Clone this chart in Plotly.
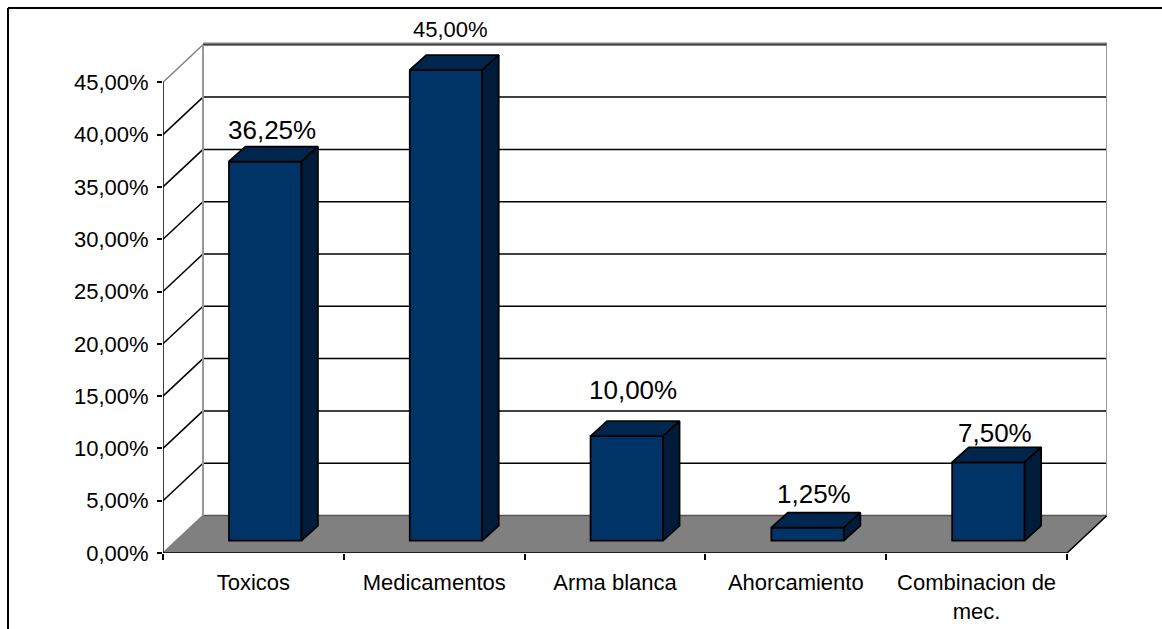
import plotly.graph_objects as go

categories = ["Toxicos", "Medicamentos", "Arma blanca", "Ahorcamiento", "Combinacion de<br>mec."]
values = [36.25, 45.0, 10.0, 1.25, 7.5]
y_ticks = [0, 5, 10, 15, 20, 25, 30, 35, 40, 45]

# 3D look: pixel scales and depths, used only to convert style into axis units
W, H = 1162, 629
PL, PR, PT, PB = 163, 1107, 40, 553
PX_CAT = 180.8
PX_UNIT = 10.46
DX = 40 / PX_CAT
DY = 37.5 / PX_UNIT
BAR_W = 72.5 / PX_CAT
BAR_DX = 16.5 / PX_CAT
BAR_DY = 15 / PX_UNIT
SHIFT_X = 11.8 / PX_CAT
SHIFT_Y = 12.3 / PX_UNIT
FONT = "Liberation Sans"
FRONT, TOP, SIDE = "#003366", "#00264D", "#001C3A"
label_nudge = [(-1, 0), (-3.5, 11), (-2, 14), (-2, 2), (-2, -3)]
label_size = [26, 22, 26, 26, 26]
EDGE = 1.75

fmt = lambda v: f"{v:.2f}%".replace(".", ",")
n = len(categories)
x_min, x_max = -0.5, n - 0.5
y_top = y_ticks[-1]

shapes = []
def line(x0, y0, x1, y1, color="black", width=1.5, ref="x", layer="below"):
    shapes.append(dict(type="line", xref=ref, yref=ref.replace("x", "y"), x0=x0, y0=y0, x1=x1, y1=y1,
                       line=dict(color=color, width=width), layer=layer))

# floor
shapes.append(dict(type="path", xref="x", yref="y", layer="below",
                   path=f"M{x_min},0 L{x_max},0 L{x_max+DX},{DY} L{x_min+DX},{DY} Z",
                   fillcolor="#808080", line=dict(color="#808080", width=1)))
line(x_min + DX, DY, x_max + DX, DY, "#555555", 1.5)
# gridlines on back and side walls
for v in y_ticks[1:]:
    line(x_min + DX, v + DY, x_max + DX, v + DY)
    line(x_min, v, x_min + DX, v + DY, "#808080" if v == y_top else "black")
line(x_min, 0, x_min + DX, DY, "#808080")
line(x_max, 0, x_max + DX, DY, "black")
# wall border
line(x_min + DX, DY, x_min + DX, y_top + DY, "#999999", 2)
line(x_max + DX, DY, x_max + DX, y_top + DY, "#999999", 2)
line(x_min + DX, y_top + DY + 0.12, x_max + DX, y_top + DY + 0.12, "#808080", 2)
# outer frame, paper coordinates
def px(x): return (x - PL) / (PR - PL)
def py(y): return (PB - y) / (PB - PT)
line(px(8), py(8), px(W), py(8), "black", 2, "paper")
line(px(8), py(8), px(8), py(H), "black", 2, "paper")

centers = [i + SHIFT_X for i in range(n)]
fig = go.Figure()
fig.add_trace(go.Bar(x=centers, y=values, base=[SHIFT_Y] * n, width=BAR_W,
                     marker=dict(color=FRONT, line=dict(color="black", width=EDGE)),
                     hoverinfo="skip", showlegend=False))

for c, v in zip(centers, values):
    xl, xr = c - BAR_W / 2, c + BAR_W / 2
    yb, yt = SHIFT_Y, SHIFT_Y + v
    fig.add_trace(go.Scatter(x=[xl, xr, xr + BAR_DX, xl + BAR_DX, xl],
                             y=[yt, yt, yt + BAR_DY, yt + BAR_DY, yt],
                             mode="lines", fill="toself", fillcolor=TOP,
                             line=dict(color="black", width=EDGE), cliponaxis=False,
                             hoverinfo="skip", showlegend=False))
    fig.add_trace(go.Scatter(x=[xr, xr + BAR_DX, xr + BAR_DX, xr, xr],
                             y=[yb, yb + BAR_DY, yt + BAR_DY, yt, yb],
                             mode="lines", fill="toself", fillcolor=SIDE,
                             line=dict(color="black", width=EDGE), cliponaxis=False,
                             hoverinfo="skip", showlegend=False))

# axis lines
fig.add_trace(go.Scatter(x=[x_min, x_min, x_max], y=[y_top, 0, 0], mode="lines",
                         line=dict(color="black", width=1.5), cliponaxis=False,
                         hoverinfo="skip", showlegend=False))

annotations = [dict(x=c + BAR_DX / 2, y=SHIFT_Y + v + BAR_DY, text=fmt(v), showarrow=False,
                    xanchor="center", yanchor="bottom", xshift=nx, yshift=ny,
                    font=dict(family=FONT, size=s, color="black"))
               for c, v, (nx, ny), s in zip(centers, values, label_nudge, label_size)]

fig.update_layout(
    width=W, height=H, autosize=False,
    margin=dict(l=PL, r=W - PR, t=PT, b=H - PB),
    paper_bgcolor="white", plot_bgcolor="white",
    shapes=shapes, annotations=annotations, showlegend=False,
    xaxis=dict(range=[x_min, x_max + DX], tickmode="array", tickvals=list(range(n)),
               ticktext=categories, ticks="", showgrid=False, zeroline=False, showline=False,
               automargin=False, tickangle=0,
               tickfont=dict(family=FONT, size=22, color="black"),
               ticklabelstandoff=14,
               minor=dict(tickmode="array", tickvals=[x_min + i for i in range(n + 1)],
                          ticks="outside", ticklen=6, tickwidth=1.5, tickcolor="black", showgrid=False)),
    yaxis=dict(range=[0, (PB - PT) / PX_UNIT], tickmode="array", tickvals=y_ticks,
               ticktext=[fmt(v) for v in y_ticks], ticks="outside", ticklen=5, tickwidth=1.5,
               tickcolor="black", showgrid=False, zeroline=False, showline=False, automargin=False,
               ticklabelstandoff=4,
               tickfont=dict(family=FONT, size=22, color="black")),
)
fig.write_html("out.html", config=dict(displayModeBar=False),
               post_script="document.body.style.margin='0';document.documentElement.style.overflow='hidden';")
